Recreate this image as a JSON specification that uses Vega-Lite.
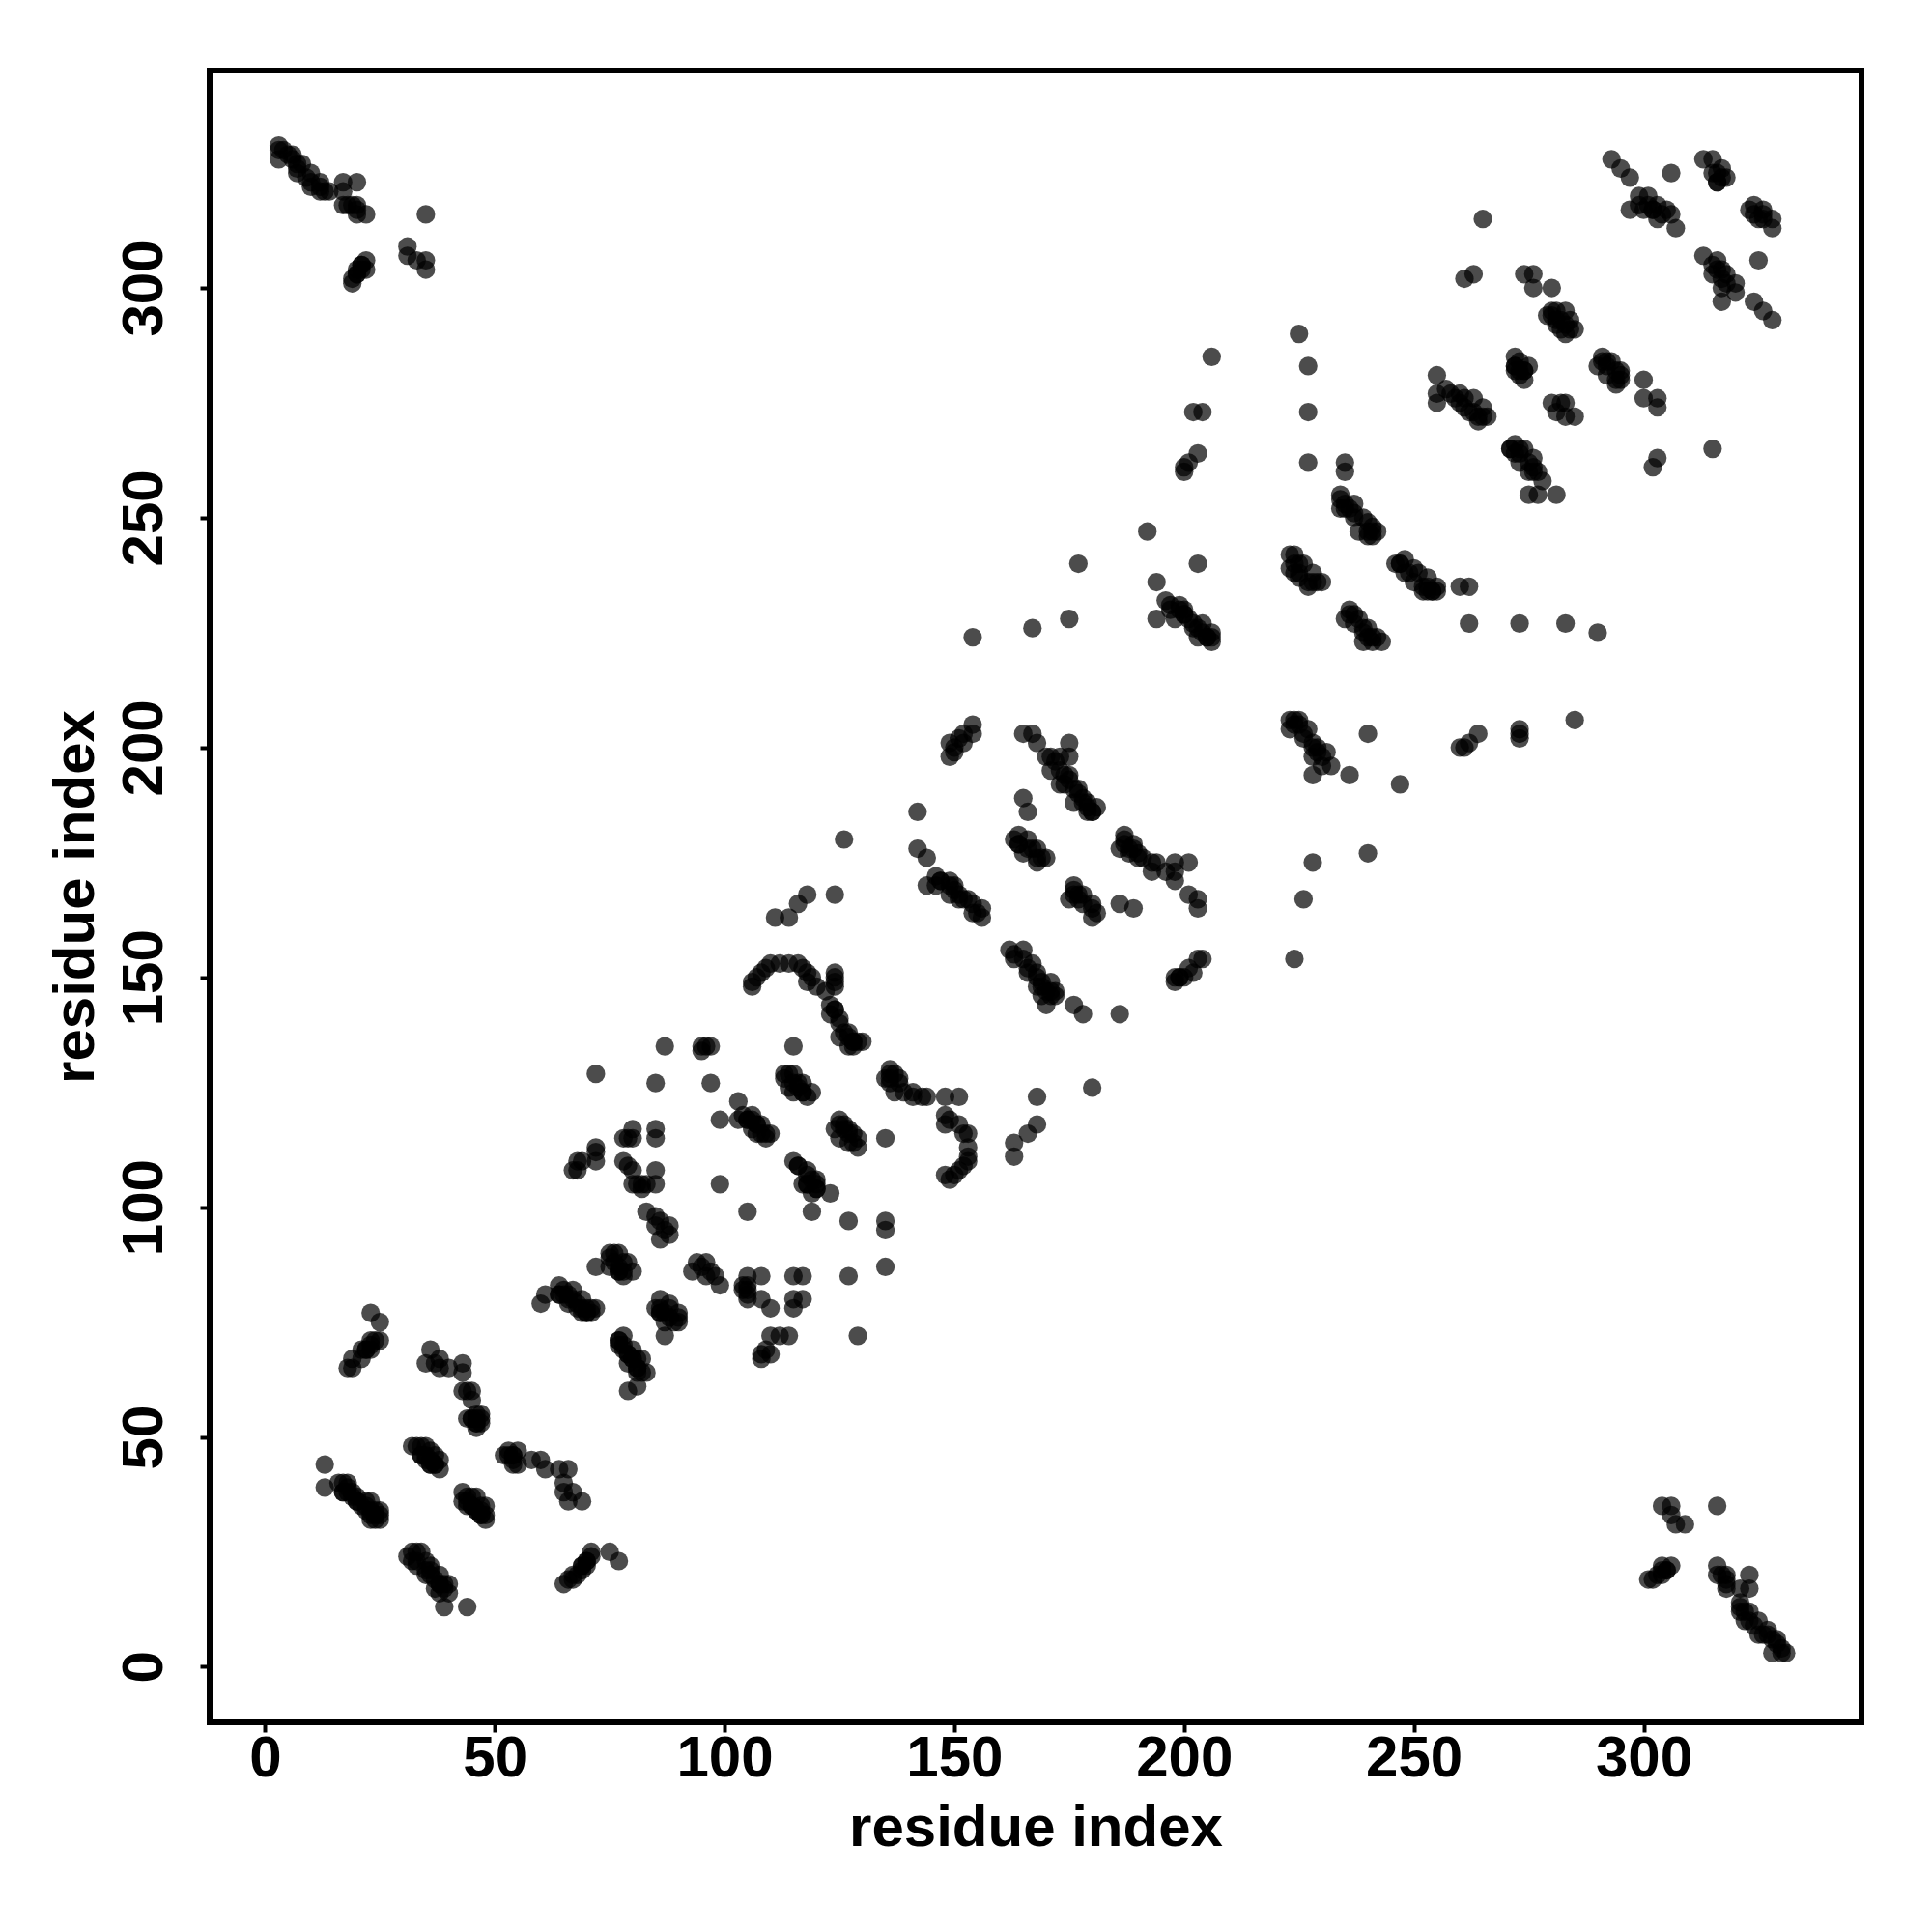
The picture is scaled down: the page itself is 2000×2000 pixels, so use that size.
{"$schema":"https://vega.github.io/schema/vega-lite/v6.json","autosize":{"type":"none"},"padding":{"left":217,"top":73,"right":73,"bottom":217},"width":1710,"height":1710,"background":"white","view":{"stroke":"black","strokeWidth":6,"fill":"white"},"data":{"values":[
{"x":3,"y":331},{"x":3,"y":330},{"x":3,"y":328},{"x":4,"y":330},{"x":5,"y":329},{"x":6,"y":329},{"x":7,"y":327},{"x":7,"y":325},{"x":8,"y":327},{"x":10,"y":325},{"x":10,"y":322},{"x":12,"y":323},{"x":12,"y":321},{"x":13,"y":321},{"x":14,"y":321},{"x":17,"y":323},{"x":20,"y":323},{"x":17,"y":321},{"x":17,"y":318},{"x":20,"y":318},{"x":20,"y":316},{"x":19,"y":318},{"x":22,"y":316},{"x":35,"y":316},{"x":31,"y":309},{"x":31,"y":307},{"x":33,"y":306},{"x":35,"y":306},{"x":35,"y":304},{"x":22,"y":306},{"x":21,"y":305},{"x":20,"y":304},{"x":22,"y":304},{"x":19,"y":302},{"x":19,"y":301},{"x":20,"y":303},
{"y":3,"x":331},{"y":3,"x":330},{"y":3,"x":328},{"y":4,"x":330},{"y":5,"x":329},{"y":6,"x":329},{"y":7,"x":327},{"y":7,"x":325},{"y":8,"x":327},{"y":10,"x":325},{"y":10,"x":322},{"y":12,"x":323},{"y":12,"x":321},{"y":13,"x":321},{"y":14,"x":321},{"y":17,"x":323},{"y":20,"x":323},{"y":17,"x":321},{"y":17,"x":318},{"y":20,"x":318},{"y":20,"x":316},{"y":19,"x":318},{"y":22,"x":316},{"y":35,"x":316},{"y":31,"x":309},{"y":31,"x":307},{"y":33,"x":306},{"y":35,"x":306},{"y":35,"x":304},{"y":22,"x":306},{"y":21,"x":305},{"y":20,"x":304},{"y":22,"x":304},{"y":19,"x":302},{"y":19,"x":301},{"y":20,"x":303},
{"x":13,"y":44},{"x":13,"y":39},{"x":16,"y":40},{"x":17,"y":40},{"x":18,"y":40},{"x":17,"y":38},{"x":18,"y":38},{"x":19,"y":37},{"x":20,"y":37},{"x":20,"y":36},{"x":21,"y":35},{"x":22,"y":36},{"x":22,"y":34},{"x":23,"y":36},{"x":23,"y":33},{"x":24,"y":34},{"x":24,"y":32},{"x":25,"y":34},{"x":25,"y":33},{"x":25,"y":32},{"x":23,"y":32},
{"x":32,"y":48},{"x":33,"y":48},{"x":34,"y":48},{"x":35,"y":48},{"x":36,"y":47},{"x":34,"y":46},{"x":35,"y":46},{"x":36,"y":45},{"x":36,"y":44},{"x":37,"y":46},{"x":37,"y":44},{"x":38,"y":45},{"x":38,"y":43},
{"x":43,"y":38},{"x":43,"y":36},{"x":44,"y":37},{"x":45,"y":37},{"x":46,"y":37},{"x":44,"y":35},{"x":45,"y":35},{"x":46,"y":34},{"x":47,"y":35},{"x":47,"y":34},{"x":48,"y":35},{"x":48,"y":33},{"x":48,"y":32},{"x":47,"y":33},
{"x":31,"y":24},{"x":32,"y":25},{"x":33,"y":25},{"x":34,"y":25},{"x":32,"y":23},{"x":33,"y":22},{"x":35,"y":23},{"x":36,"y":22},{"x":35,"y":20},{"x":36,"y":21},{"x":37,"y":19},{"x":38,"y":20},{"x":38,"y":18},{"x":39,"y":18},{"x":40,"y":18},{"x":37,"y":17},{"x":38,"y":16},{"x":40,"y":16},{"x":39,"y":13},{"x":44,"y":13},
{"x":65,"y":18},{"x":66,"y":19},{"x":67,"y":19},{"x":67,"y":20},{"x":68,"y":20},{"x":69,"y":21},{"x":69,"y":22},{"x":70,"y":23},{"x":70,"y":22},{"x":71,"y":24},{"x":71,"y":25},{"x":75,"y":25},{"x":77,"y":23},
{"x":69,"y":36},{"x":66,"y":43},{"x":64,"y":43},{"x":65,"y":40},{"x":65,"y":38},{"x":67,"y":38},{"x":66,"y":36},{"x":61,"y":43},{"x":60,"y":45},{"x":58,"y":45},{"x":55,"y":44},{"x":54,"y":44},{"x":55,"y":47},{"x":52,"y":46},{"x":53,"y":47},{"x":54,"y":46},
{"x":36,"y":69},{"x":35,"y":66},{"x":38,"y":67},{"x":38,"y":65},{"x":37,"y":66},{"x":40,"y":65},{"x":43,"y":66},{"x":43,"y":64},{"x":43,"y":60},{"x":44,"y":60},{"x":45,"y":60},{"x":45,"y":58},{"x":44,"y":54},{"x":46,"y":55},{"x":47,"y":55},{"x":46,"y":52},{"x":47,"y":53},{"x":45,"y":54},{"x":46,"y":53},
{"x":23,"y":77},{"x":25,"y":75},{"x":25,"y":71},{"x":23,"y":71},{"x":24,"y":71},{"x":21,"y":69},{"x":22,"y":69},{"x":23,"y":69},{"x":19,"y":67},{"x":21,"y":67},{"x":18,"y":65},{"x":19,"y":65},
{"x":60,"y":79},{"x":61,"y":81},{"x":64,"y":83},{"x":64,"y":81},{"x":65,"y":82},{"x":66,"y":81},{"x":67,"y":82},{"x":66,"y":79},{"x":67,"y":80},{"x":68,"y":79},{"x":69,"y":80},{"x":69,"y":77},{"x":70,"y":78},{"x":71,"y":77},{"x":72,"y":78},{"x":70,"y":77},
{"x":72,"y":87},{"x":75,"y":90},{"x":76,"y":90},{"x":77,"y":90},{"x":75,"y":89},{"x":75,"y":87},{"x":77,"y":87},{"x":79,"y":88},{"x":80,"y":86},{"x":78,"y":85},{"x":77,"y":86},{"x":78,"y":88},
{"y":72,"x":87},{"y":75,"x":90},{"y":76,"x":90},{"y":77,"x":90},{"y":75,"x":89},{"y":75,"x":87},{"y":77,"x":87},{"y":79,"x":88},{"y":80,"x":86},{"y":78,"x":85},{"y":77,"x":86},{"y":78,"x":88},
{"x":78,"y":72},{"x":77,"y":70},{"x":77,"y":71},{"x":78,"y":69},{"x":79,"y":68},{"x":80,"y":69},{"x":81,"y":67},{"x":82,"y":67},{"x":79,"y":66},{"x":80,"y":67},{"x":81,"y":65},{"x":83,"y":64},{"x":81,"y":64},{"x":82,"y":64},{"x":81,"y":61},{"x":79,"y":60},
{"x":83,"y":99},{"x":85,"y":98},{"x":86,"y":97},{"x":88,"y":96},{"x":88,"y":94},{"x":86,"y":93},{"x":85,"y":96},{"x":87,"y":95},
{"y":83,"x":99},{"y":85,"x":98},{"y":86,"x":97},{"y":88,"x":96},{"y":88,"x":94},{"y":86,"x":93},{"y":85,"x":96},{"y":87,"x":95},
{"x":72,"y":129},{"x":85,"y":127},{"x":87,"y":135},{"x":95,"y":135},{"x":96,"y":135},{"x":97,"y":135},{"x":95,"y":134},{"x":97,"y":127},
{"x":80,"y":117},{"x":85,"y":117},{"x":78,"y":115},{"x":80,"y":115},{"x":79,"y":115},{"x":85,"y":115},{"x":72,"y":113},{"x":72,"y":112},{"x":72,"y":110},{"x":68,"y":110},{"x":69,"y":110},{"x":67,"y":108},{"x":68,"y":108},
{"x":78,"y":110},{"x":79,"y":109},{"x":80,"y":108},{"x":85,"y":108},{"x":80,"y":105},{"x":81,"y":105},{"x":82,"y":105},{"x":83,"y":105},{"x":85,"y":105},{"x":82,"y":104},
{"x":99,"y":119},{"x":103,"y":123},{"x":103,"y":119},{"x":104,"y":120},{"x":105,"y":119},{"x":106,"y":120},{"x":107,"y":118},{"x":108,"y":118},{"x":107,"y":116},{"x":110,"y":116},{"x":109,"y":115},{"x":106,"y":117},
{"x":99,"y":105},{"x":105,"y":99},{"x":115,"y":135},
{"x":113,"y":129},{"x":114,"y":129},{"x":115,"y":129},{"x":116,"y":127},{"x":117,"y":127},{"x":119,"y":125},{"x":117,"y":125},{"x":114,"y":126},{"x":115,"y":125},{"x":118,"y":124},
{"x":124,"y":117},{"x":125,"y":119},{"x":126,"y":118},{"x":127,"y":117},{"x":128,"y":116},{"x":129,"y":115},{"x":129,"y":113},{"x":125,"y":115},{"x":127,"y":114},{"x":135,"y":115},
{"x":115,"y":110},{"x":116,"y":109},{"x":118,"y":108},{"x":117,"y":105},{"x":118,"y":105},{"x":120,"y":106},{"x":120,"y":104},{"x":119,"y":103},{"x":123,"y":103},{"x":119,"y":99},{"x":127,"y":97},{"x":135,"y":97},{"x":135,"y":95},{"x":135,"y":87},
{"x":127,"y":85},{"x":117,"y":85},{"x":115,"y":85},{"x":105,"y":85},{"x":108,"y":85},{"x":105,"y":83},{"x":104,"y":82},{"x":105,"y":81},{"x":105,"y":80},{"x":108,"y":80},{"x":110,"y":78},{"x":115,"y":80},{"x":117,"y":80},{"x":115,"y":78},
{"x":110,"y":72},{"x":112,"y":72},{"x":114,"y":72},{"x":110,"y":68},{"x":108,"y":68},{"x":108,"y":67},{"x":109,"y":69},{"x":129,"y":72},
{"x":106,"y":148},{"x":106,"y":149},{"x":107,"y":150},{"x":108,"y":151},{"x":109,"y":152},{"x":110,"y":153},{"x":112,"y":153},{"x":114,"y":153},{"x":116,"y":153},{"x":117,"y":152},{"x":118,"y":151},{"x":118,"y":149},{"x":119,"y":150},{"x":120,"y":148},{"x":122,"y":147},{"x":124,"y":151},{"x":124,"y":148},{"x":123,"y":144},{"x":123,"y":142},{"x":124,"y":143},{"x":125,"y":141},{"x":126,"y":138},{"x":127,"y":138},{"x":125,"y":137},{"x":128,"y":136},{"x":130,"y":136},{"x":127,"y":135},
{"x":136,"y":130},{"x":135,"y":128},{"x":137,"y":129},{"x":138,"y":128},{"x":136,"y":127},{"x":137,"y":125},{"x":139,"y":125},{"x":141,"y":125},{"x":141,"y":124},{"x":143,"y":124},{"x":144,"y":124},{"x":148,"y":124},{"x":151,"y":124},
{"x":148,"y":120},{"x":148,"y":118},{"x":149,"y":119},{"x":151,"y":118},{"x":152,"y":116},{"x":153,"y":116},{"x":153,"y":113},{"x":153,"y":111},
{"x":148,"y":107},{"x":149,"y":106},{"x":150,"y":107},{"x":151,"y":108},{"x":152,"y":109},{"x":153,"y":110},
{"x":163,"y":111},{"x":163,"y":114},{"x":166,"y":116},{"x":168,"y":118},{"x":168,"y":124},{"x":180,"y":126},
{"x":154,"y":205},{"x":154,"y":203},{"x":152,"y":203},{"x":152,"y":201},{"x":151,"y":202},{"x":149,"y":201},{"x":150,"y":200},{"x":149,"y":198},{"x":150,"y":199},
{"x":126,"y":180},{"x":142,"y":186},{"x":142,"y":178},{"x":144,"y":176},{"x":144,"y":170},{"x":146,"y":172},{"x":146,"y":170},{"x":147,"y":171},{"x":149,"y":171},{"x":149,"y":168},{"x":150,"y":170},{"x":151,"y":168},{"x":153,"y":167},{"x":154,"y":166},{"x":156,"y":165},{"x":156,"y":163},{"x":154,"y":164},{"x":155,"y":164},
{"x":118,"y":168},{"x":116,"y":166},{"x":114,"y":163},{"x":111,"y":163},{"x":124,"y":168},
{"x":165,"y":203},{"x":167,"y":203},{"x":168,"y":201},{"x":175,"y":201},{"x":170,"y":198},{"x":171,"y":198},{"x":172,"y":197},{"x":173,"y":198},{"x":175,"y":198},{"x":173,"y":195},{"x":174,"y":194},{"x":175,"y":194},{"x":173,"y":192},{"x":174,"y":192},{"x":176,"y":191},{"x":177,"y":191},{"x":178,"y":189},{"x":176,"y":188},{"x":179,"y":188},{"x":181,"y":187},{"x":179,"y":186},{"x":180,"y":186},{"x":165,"y":189},{"x":166,"y":186},
{"x":163,"y":180},{"x":164,"y":181},{"x":164,"y":179},{"x":166,"y":180},{"x":167,"y":178},{"x":168,"y":178},{"x":170,"y":176},{"x":168,"y":175},{"x":165,"y":177},
{"x":187,"y":181},{"x":186,"y":178},{"x":187,"y":179},{"x":189,"y":179},{"x":188,"y":177},{"x":190,"y":177},{"x":191,"y":176},{"x":193,"y":175},{"x":194,"y":175},{"x":193,"y":173},{"x":196,"y":173},{"x":198,"y":175},{"x":201,"y":175},{"x":198,"y":173},{"x":198,"y":171},{"x":201,"y":168},{"x":203,"y":167},{"x":203,"y":165},{"x":186,"y":166},{"x":189,"y":165},
{"x":176,"y":170},{"x":175,"y":167},{"x":176,"y":169},{"x":177,"y":168},{"x":178,"y":168},{"x":180,"y":166},{"x":181,"y":164},{"x":180,"y":163},
{"x":162,"y":156},{"x":163,"y":155},{"x":165,"y":156},{"x":163,"y":154},{"x":165,"y":154},{"x":167,"y":153},{"x":166,"y":151},{"x":168,"y":151},{"x":169,"y":149},{"x":171,"y":149},{"x":168,"y":148},{"x":172,"y":146},{"x":170,"y":144},{"x":169,"y":146},{"x":171,"y":147},{"x":176,"y":144},{"x":178,"y":142},{"x":186,"y":142},
{"x":198,"y":149},{"x":199,"y":150},{"x":200,"y":150},{"x":201,"y":152},{"x":202,"y":151},{"x":203,"y":154},{"x":204,"y":154},
{"x":154,"y":224},{"x":167,"y":226},{"x":175,"y":228},{"x":177,"y":240},{"x":192,"y":247},{"x":194,"y":236},{"x":194,"y":228},{"x":203,"y":240},
{"y":154,"x":224},{"y":167,"x":226},{"y":175,"x":228},{"y":177,"x":240},
{"x":206,"y":285},{"x":202,"y":273},{"x":204,"y":273},{"x":200,"y":260},{"x":200,"y":261},{"x":201,"y":262},{"x":203,"y":264},
{"y":206,"x":285},{"y":202,"x":273},{"y":204,"x":273},{"y":200,"x":260},{"y":200,"x":261},{"y":201,"x":262},{"y":203,"x":264},
{"x":196,"y":232},{"x":197,"y":231},{"x":197,"y":230},{"x":199,"y":231},{"x":198,"y":228},{"x":200,"y":230},{"x":201,"y":228},{"x":200,"y":229},{"x":204,"y":227},{"x":206,"y":225},{"x":206,"y":223},{"x":203,"y":224},{"x":204,"y":225},{"x":202,"y":226},{"x":205,"y":224},
{"x":223,"y":242},{"x":224,"y":242},{"x":226,"y":240},{"x":228,"y":238},{"x":230,"y":236},{"x":227,"y":235},{"x":223,"y":239},{"x":225,"y":237},{"x":224,"y":238},{"x":229,"y":236},{"x":225,"y":240},
{"x":234,"y":255},{"x":234,"y":252},{"x":235,"y":253},{"x":236,"y":252},{"x":237,"y":251},{"x":237,"y":253},{"x":239,"y":250},{"x":240,"y":249},{"x":241,"y":248},{"x":240,"y":246},{"x":238,"y":247},{"x":242,"y":247},
{"x":248,"y":241},{"x":246,"y":240},{"x":247,"y":240},{"x":250,"y":239},{"x":251,"y":238},{"x":253,"y":237},{"x":255,"y":235},{"x":252,"y":234},{"x":248,"y":238},{"x":254,"y":234},{"x":253,"y":234},{"x":250,"y":236},
{"x":260,"y":235},{"x":262,"y":235},{"x":236,"y":230},{"x":235,"y":228},{"x":237,"y":229},{"x":238,"y":228},{"x":239,"y":226},{"x":240,"y":226},{"x":242,"y":224},{"x":239,"y":223},{"x":241,"y":223},{"x":243,"y":223},
{"x":223,"y":206},{"x":224,"y":206},{"x":225,"y":206},{"x":227,"y":204},{"x":223,"y":204},{"x":226,"y":203},{"x":228,"y":201},{"x":229,"y":200},{"x":231,"y":199},{"x":228,"y":198},{"x":232,"y":196},{"x":230,"y":196},{"x":228,"y":194},{"x":236,"y":194},{"x":240,"y":203},{"x":247,"y":192},
{"x":225,"y":290},{"x":227,"y":283},{"x":227,"y":273},{"x":227,"y":262},{"x":235,"y":262},{"x":235,"y":260},
{"y":225,"x":290},{"y":227,"x":283},{"y":227,"x":273},{"y":227,"x":262},
{"x":255,"y":281},{"x":255,"y":277},{"x":255,"y":275},{"x":257,"y":278},{"x":258,"y":277},{"x":260,"y":277},{"x":260,"y":275},{"x":261,"y":276},{"x":263,"y":276},{"x":265,"y":274},{"x":266,"y":272},{"x":264,"y":271},{"x":262,"y":273},
{"x":265,"y":315},{"x":261,"y":302},{"x":263,"y":303},{"x":274,"y":303},{"x":276,"y":303},{"x":276,"y":300},{"x":280,"y":300},
{"x":279,"y":294},{"x":280,"y":295},{"x":281,"y":295},{"x":283,"y":295},{"x":284,"y":293},{"x":285,"y":291},{"x":283,"y":290},{"x":281,"y":292},{"x":282,"y":293},
{"x":272,"y":285},{"x":272,"y":283},{"x":273,"y":284},{"x":275,"y":283},{"x":274,"y":280},{"x":272,"y":282},{"x":274,"y":282},{"x":280,"y":275},{"x":282,"y":275},{"x":281,"y":273},{"x":283,"y":275},{"x":285,"y":272},{"x":283,"y":272},
{"x":291,"y":285},{"x":290,"y":283},{"x":292,"y":284},{"x":293,"y":284},{"x":295,"y":282},{"x":295,"y":280},{"x":294,"y":279},{"x":292,"y":281},{"x":300,"y":280},{"x":300,"y":276},{"x":303,"y":276},{"x":303,"y":274},
{"x":272,"y":266},{"x":271,"y":265},{"x":273,"y":265},{"x":274,"y":265},{"x":276,"y":263},{"x":277,"y":260},{"x":278,"y":258},{"x":275,"y":255},{"x":277,"y":255},{"x":281,"y":255},{"x":275,"y":260},{"x":273,"y":262},{"x":276,"y":261},{"x":303,"y":263},{"x":302,"y":261},{"x":315,"y":265},
{"x":293,"y":328},{"x":295,"y":326},{"x":297,"y":324},{"x":306,"y":325},{"x":299,"y":320},{"x":301,"y":320},{"x":297,"y":317},{"x":299,"y":318},{"x":303,"y":318},{"x":306,"y":316},{"x":307,"y":313},{"x":303,"y":315},{"x":300,"y":317},{"x":302,"y":317},{"x":305,"y":317},
{"x":313,"y":328},{"x":315,"y":328},{"x":317,"y":326},{"x":318,"y":324},{"x":316,"y":323},{"x":315,"y":325},{"x":324,"y":318},{"x":326,"y":317},{"x":328,"y":315},{"x":328,"y":313},{"x":323,"y":317},{"x":326,"y":315},
{"x":313,"y":307},{"x":316,"y":306},{"x":317,"y":304},{"x":318,"y":303},{"x":320,"y":301},{"x":320,"y":299},{"x":315,"y":303},{"x":317,"y":300},{"x":317,"y":297},{"x":325,"y":306},{"x":324,"y":297},{"x":326,"y":295},{"x":328,"y":293},
{"x":17,"y":38},{"x":18,"y":39},{"x":19,"y":38},{"x":20,"y":36},{"x":22,"y":35},{"x":23,"y":34},{"x":24,"y":33},{"x":34,"y":46},{"x":35,"y":45},{"x":36,"y":44},{"x":37,"y":44},{"x":44,"y":36},{"x":45,"y":35},{"x":46,"y":34},{"x":47,"y":33},{"x":33,"y":23},{"x":35,"y":21},{"x":36,"y":20},{"x":38,"y":18},{"x":39,"y":17},{"x":53,"y":46},{"x":54,"y":46},{"x":54,"y":45},{"x":45,"y":54},{"x":46,"y":54},{"x":46,"y":53},{"x":47,"y":54},{"x":69,"y":22},{"x":70,"y":23},{"x":22,"y":69},{"x":23,"y":70},
{"x":64,"y":81},{"x":65,"y":81},{"x":66,"y":80},{"x":68,"y":78},{"x":69,"y":78},{"x":70,"y":77},{"x":71,"y":78},{"x":77,"y":71},{"x":78,"y":70},{"x":79,"y":68},{"x":80,"y":67},{"x":81,"y":65},{"x":76,"y":88},{"x":77,"y":86},{"x":78,"y":86},{"x":88,"y":76},{"x":86,"y":77},{"x":86,"y":78},
{"x":105,"y":119},{"x":106,"y":119},{"x":107,"y":118},{"x":108,"y":116},{"x":109,"y":116},{"x":113,"y":128},{"x":115,"y":127},{"x":116,"y":126},{"x":117,"y":125},{"x":125,"y":118},{"x":126,"y":117},{"x":127,"y":116},{"x":128,"y":114},{"x":116,"y":109},{"x":118,"y":107},{"x":119,"y":106},{"x":120,"y":105},{"x":120,"y":104},{"x":118,"y":105},{"x":124,"y":143},{"x":125,"y":140},{"x":127,"y":137},{"x":128,"y":136},{"x":129,"y":136},{"x":128,"y":135},{"x":136,"y":129},{"x":136,"y":128},{"x":138,"y":127},{"x":104,"y":83},{"x":105,"y":82},
{"x":147,"y":171},{"x":149,"y":170},{"x":150,"y":169},{"x":151,"y":167},{"x":152,"y":167},{"x":171,"y":195},{"x":175,"y":193},{"x":177,"y":190},{"x":178,"y":188},{"x":179,"y":187},{"x":180,"y":186},{"x":164,"y":179},{"x":166,"y":178},{"x":168,"y":176},{"x":169,"y":176},{"x":187,"y":180},{"x":188,"y":178},{"x":189,"y":178},{"x":190,"y":176},{"x":176,"y":168},{"x":177,"y":167},{"x":178,"y":166},{"x":180,"y":165},{"x":168,"y":150},{"x":169,"y":148},{"x":170,"y":147},{"x":171,"y":146},{"x":172,"y":147},{"x":166,"y":152},{"x":198,"y":150},{"x":199,"y":150},{"x":124,"y":150},{"x":124,"y":149},
{"x":199,"y":230},{"x":200,"y":229},{"x":202,"y":227},{"x":203,"y":226},{"x":205,"y":224},{"x":206,"y":224},{"x":224,"y":240},{"x":225,"y":238},{"x":227,"y":236},{"x":228,"y":236},{"x":234,"y":254},{"x":235,"y":252},{"x":237,"y":250},{"x":240,"y":247},{"x":241,"y":246},{"x":241,"y":247},{"x":247,"y":240},{"x":249,"y":238},{"x":252,"y":235},{"x":253,"y":235},{"x":254,"y":234},{"x":255,"y":234},{"x":236,"y":229},{"x":237,"y":227},{"x":239,"y":225},{"x":240,"y":224},{"x":241,"y":224},{"x":224,"y":205},{"x":225,"y":205},{"x":226,"y":202},{"x":228,"y":200},{"x":229,"y":199},{"x":230,"y":198},{"x":273,"y":203},
{"x":259,"y":276},{"x":261,"y":274},{"x":263,"y":273},{"x":264,"y":272},{"x":265,"y":272},{"x":280,"y":294},{"x":281,"y":293},{"x":283,"y":292},{"x":284,"y":291},{"x":282,"y":291},{"x":272,"y":283},{"x":273,"y":282},{"x":274,"y":282},{"x":273,"y":281},{"x":291,"y":284},{"x":292,"y":283},{"x":294,"y":282},{"x":295,"y":281},{"x":294,"y":280},{"x":271,"y":265},{"x":272,"y":264},{"x":273,"y":264},{"x":275,"y":262},{"x":276,"y":260},{"x":301,"y":318},{"x":302,"y":317},{"x":304,"y":316},{"x":316,"y":325},{"x":317,"y":324},{"x":316,"y":323},{"x":324,"y":316},{"x":325,"y":315},{"x":326,"y":316},{"x":315,"y":305},{"x":316,"y":304},{"x":317,"y":302},{"x":318,"y":301},
{"x":6,"y":328},{"x":7,"y":326},{"x":9,"y":324},{"x":10,"y":323},{"x":12,"y":322},{"x":18,"y":318},{"x":20,"y":317},{"x":21,"y":305},{"x":20,"y":303},{"x":21,"y":304},{"x":328,"y":6},{"x":326,"y":7},{"x":324,"y":9},{"x":323,"y":10},{"x":322,"y":12},{"x":318,"y":18},{"x":317,"y":20},{"x":305,"y":21},{"x":304,"y":21}
]},"mark":{"type":"circle","size":370,"color":"black","opacity":0.7,"clip":false},"encoding":{"x":{"field":"x","type":"quantitative","scale":{"domain":[-12.05,347.4],"nice":false,"zero":false},"axis":{"title":"residue index","values":[0,50,100,150,200,250,300],"grid":false,"domain":false,"ticks":true,"tickColor":"black","tickWidth":4,"tickSize":10,"labelFont":"Liberation Sans","labelFontWeight":"bold","labelFontSize":60,"labelColor":"black","labelPadding":-2,"labelFlush":false,"titleFont":"Liberation Sans","titleFontWeight":"bold","titleFontSize":60,"titleColor":"black","titlePadding":13}},"y":{"field":"y","type":"quantitative","scale":{"domain":[-12.1,347.3],"nice":false,"zero":false},"axis":{"title":"residue index","values":[0,50,100,150,200,250,300],"grid":false,"domain":false,"ticks":true,"tickColor":"black","tickWidth":4,"tickSize":10,"labelFont":"Liberation Sans","labelFontWeight":"bold","labelFontSize":60,"labelColor":"black","labelAngle":270,"labelAlign":"center","labelBaseline":"bottom","labelPadding":27,"labelFlush":false,"titleFont":"Liberation Sans","titleFontWeight":"bold","titleFontSize":60,"titleColor":"black","titlePadding":10}}}}
